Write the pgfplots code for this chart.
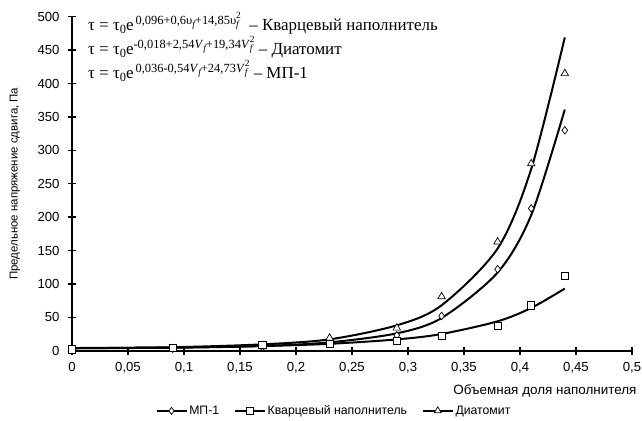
\documentclass[border=0pt]{standalone}
\usepackage{fontspec}
\setmainfont{Liberation Serif}
\setsansfont{Liberation Sans}
\usepackage{pgfplots}
\pgfplotsset{compat=1.18}

\pgfplotstableread{
x      mp     kv     di
0      2      2      2
0.09   3      4      3
0.17   5      9      6
0.23   12     10     19
0.29   23     15     34
0.33   52     22     81
0.38   122    37     163
0.41   213    68     280
0.44   330    112    415
}\datapts

\pgfplotstableread{
x      mp     kv     di
0      3.8    4.0    3.6
0.09   4.4    4.8    5.2
0.17   7.0    7.0    9.5
0.23   12.5   10.3   17
0.29   26     16.9   38
0.33   49     25     68
0.38   117    44     153
0.41   203    64     272
0.44   361    93     469
}\datafit

\newcommand{\sm}[1]{{\fontsize{9.5}{9.5}\selectfont #1}}
\newcommand{\ex}[1]{\raise0.8ex\hbox{\fontsize{12.5}{12.5}\selectfont #1}}
\newcommand{\vf}[1]{#1\lower0.4ex\hbox{\sm{\itshape f}}}
\newcommand{\vfsq}[1]{#1\rlap{\lower0.45ex\hbox{\sm{\itshape f}}}\raise1.05ex\hbox{\sm{2}}}
\newcommand{\taupre}{τ = τ\lower0.35ex\hbox{\fontsize{12.5}{12.5}\selectfont 0}e}

\begin{document}
\begin{tikzpicture}
\useasboundingbox (-72bp,-70.3bp) rectangle (570bp,350.7bp);
\begin{axis}[
  scale only axis, width=560bp, height=334bp,
  at={(0bp,0bp)}, anchor=origin,
  xmin=0, xmax=0.5, ymin=0, ymax=500,
  axis x line=bottom, axis y line=left,
  axis line style={-, line width=1.6bp, black},
  xtick={0,0.05,0.1,0.15,0.2,0.25,0.3,0.35,0.4,0.45,0.5},
  xticklabels={0,{0,05},{0,1},{0,15},{0,2},{0,25},{0,3},{0,35},{0,4},{0,45},{0,5}},
  ytick={0,50,100,150,200,250,300,350,400,450,500},
  tick align=center, major tick length=8bp,
  tick style={line width=1.4bp, black},
  ticklabel style={font=\sffamily\fontsize{13.2}{13.2}\selectfont},
  /pgf/number format/assume math mode=true,
  xticklabel style={yshift=-4bp},
  yticklabel style={xshift=-5bp},
  xlabel={Объемная доля наполнителя},
  xlabel style={at={(rel axis cs:1.0143,-0.12)}, anchor=east, font=\sffamily\fontsize{13.5}{13.5}\selectfont},
  ylabel={Предельное напряжение сдвига, Па},
  ylabel style={at={(rel axis cs:-0.102,0.5)}, anchor=center, font=\sffamily\fontsize{11.5}{11.5}\selectfont},
  legend style={at={(rel axis cs:0.468,-0.18)}, anchor=center, draw=none, fill=none,
    legend columns=3, font=\sffamily\fontsize{12.3}{12.3}\selectfont,
    /tikz/every even column/.append style={column sep=13bp}},
  legend image code/.code={\draw[#1, mark repeat=2, mark phase=2] plot coordinates {(0bp,0bp) (15bp,0bp) (30bp,0bp)};},
  clip=false,
]
\addlegendimage{black, line width=1.5bp, mark=diamond*, mark size=3.5bp, mark options={solid, fill=white, line width=0.7bp}}
\addlegendentry{МП-1}
\addlegendimage{black, line width=1.5bp, mark=square*, mark size=3.5bp, mark options={solid, fill=white, line width=0.7bp}}
\addlegendentry{Кварцевый наполнитель}
\addlegendimage{black, line width=1.5bp, mark=triangle*, mark size=4bp, mark options={solid, fill=white, line width=0.7bp}}
\addlegendentry{Диатомит}

\addplot[forget plot, black, line width=2bp, smooth, tension=0.5] table[x=x, y=kv] {\datafit};
\addplot[forget plot, black, line width=2bp, smooth, tension=0.5] table[x=x, y=mp] {\datafit};
\addplot[forget plot, black, line width=2bp, smooth, tension=0.5] table[x=x, y=di] {\datafit};

\addplot[forget plot, only marks, mark=diamond*, mark size=3.8bp, mark options={fill=white, draw=black, line width=0.7bp}] table[x=x, y=mp] {\datapts};
\addplot[forget plot, only marks, mark=triangle*, mark size=4.3bp, mark options={fill=white, draw=black, line width=0.7bp}] table[x=x, y=di] {\datapts};
\addplot[forget plot, only marks, mark=square*, mark size=3.6bp, mark options={fill=white, draw=black, line width=0.7bp}] table[x=x, y=kv] {\datapts};
\end{axis}

\begin{scope}[every node/.style={anchor=base west, inner sep=0pt, font=\fontsize{17}{17}\selectfont}]
\node at (16bp,319.7bp) {\taupre\kern2bp\ex{0,096+0,6\vf{υ}+14,85\vfsq{υ}}\ \ – Кварцевый наполнитель};
\node at (16bp,295.7bp) {\taupre\ex{-0,018+2,54\vf{\textit{V}}+19,34\vfsq{\textit{V}}} – Диатомит};
\node at (16bp,271.7bp) {\taupre\kern2bp\ex{0,036-0,54\vf{\textit{V}}+24,73\vfsq{\textit{V}}} – МП-1};
\end{scope}
\end{tikzpicture}
\end{document}
